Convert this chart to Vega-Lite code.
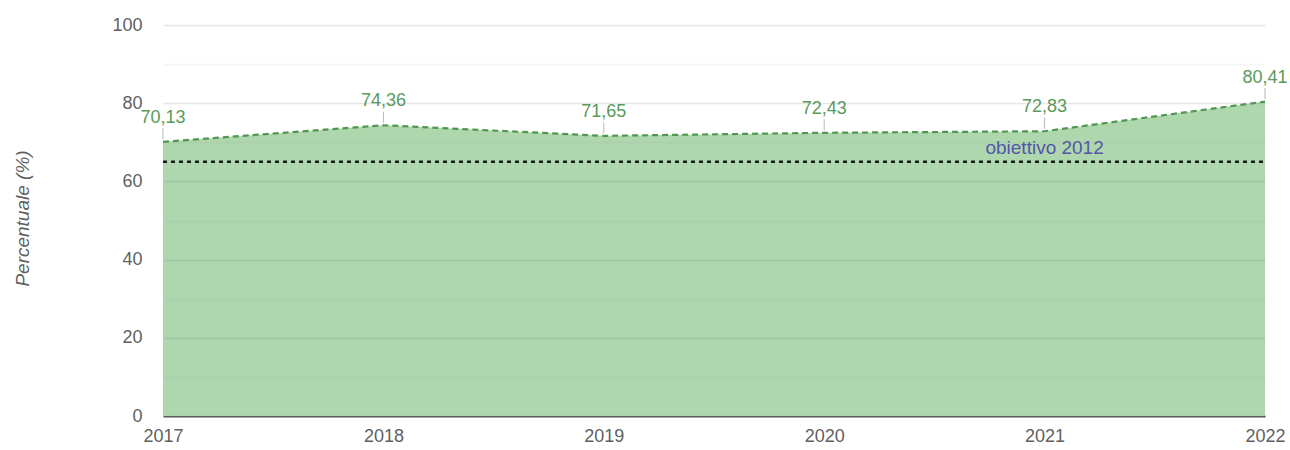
{
  "$schema": "https://vega.github.io/schema/vega-lite/v6.json",
  "autosize": "none",
  "width": 1102,
  "height": 391,
  "padding": {"left": 163, "top": 25, "right": 25, "bottom": 34},
  "background": "white",
  "config": {
    "font": "Liberation Sans",
    "view": {"stroke": null},
    "locale": {"number": {"decimal": ",", "thousands": ".", "grouping": [3], "currency": ["€", ""]}}
  },
  "datasets": {
    "main": [
      {"year": 2017, "value": 70.13},
      {"year": 2018, "value": 74.36},
      {"year": 2019, "value": 71.65},
      {"year": 2020, "value": 72.43},
      {"year": 2021, "value": 72.83},
      {"year": 2022, "value": 80.41}
    ],
    "target": [
      {"year": 2017, "value": 65},
      {"year": 2022, "value": 65}
    ],
    "targetLabel": [
      {"year": 2021, "value": 65, "label": "obiettivo 2012"}
    ]
  },
  "encoding": {
    "x": {"field": "year", "type": "quantitative", "scale": {"domain": [2017, 2022], "nice": false, "zero": false},
      "axis": {"values": [2017, 2018, 2019, 2020, 2021, 2022], "format": "d", "title": null, "grid": false, "domainColor": "#555", "domainWidth": 2, "ticks": false, "labelColor": "#5f5f5f", "labelFontSize": 18, "labelPadding": 11, "labelFlush": false}},
    "y": {"field": "value", "type": "quantitative", "scale": {"domain": [0, 100], "nice": false},
      "axis": {"values": [0, 10, 20, 30, 40, 50, 60, 70, 80, 90, 100], "labelExpr": "datum.value % 20 === 0 ? datum.label : ''", "title": "Percentuale (%)", "titleFontStyle": "italic", "titleFontWeight": "normal", "titleFontSize": 19, "titleColor": "#5f5f5f", "titleX": -131, "titleY": 193, "labelColor": "#5f5f5f", "labelFontSize": 18, "labelPadding": 21, "domain": false, "ticks": false, "gridColor": "#7a7a7a", "gridOpacity": {"expr": "datum.value % 20 === 0 ? 0.18 : 0.08"}, "gridWidth": 1.5, "zindex": 1}}
  },
  "layer": [
    {
      "data": {"name": "main"},
      "mark": {"type": "area", "color": "#afd7ae", "opacity": 1}
    },
    {
      "data": {"name": "main"},
      "mark": {"type": "line", "color": "#4f974f", "strokeWidth": 2.2, "strokeDash": [6, 4]}
    },
    {
      "data": {"name": "target"},
      "mark": {"type": "line", "color": "#1a1a1a", "strokeWidth": 2.5, "strokeDash": [4, 4]}
    },
    {
      "data": {"name": "main"},
      "mark": {"type": "tick", "orient": "vertical", "color": "#999", "opacity": 0.7, "thickness": 1, "size": 11, "yOffset": -8}
    },
    {
      "data": {"name": "main"},
      "mark": {"type": "text", "color": "#5a9a5a", "fontSize": 18, "baseline": "middle", "dy": -24},
      "encoding": {
        "text": {"field": "value", "type": "quantitative", "format": ".2f"}
      }
    },
    {
      "data": {"name": "targetLabel"},
      "mark": {"type": "text", "color": "#5555aa", "fontSize": 19, "baseline": "middle", "dy": -14},
      "encoding": {
        "text": {"field": "label", "type": "nominal"}
      }
    }
  ]
}
